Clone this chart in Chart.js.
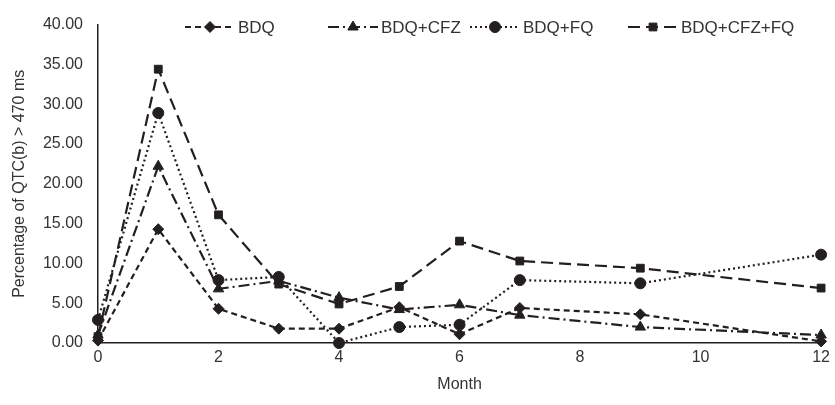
<!DOCTYPE html>
<html>
<head>
<meta charset="utf-8">
<script src="https://cdn.jsdelivr.net/npm/chart.js@4"></script>
<style>
  html, body { margin: 0; padding: 0; background: #fff; }
  #wrap { width: 835px; height: 405px; }
</style>
</head>
<body>
<div id="wrap"><canvas id="qtcChart"></canvas></div>
<script>
const months = [0, 1, 2, 3, 4, 5, 6, 7, 9, 12];
const bdq = [0.3, 14.3, 4.3, 1.8, 1.8, 4.5, 1.1, 4.4, 3.6, 0.2];
const bdqCfz = [1.0, 22.2, 6.8, 7.8, 5.7, 4.2, 4.8, 3.5, 2.0, 1.0];
const bdqFq = [2.9, 28.9, 7.9, 8.3, 0.0, 2.0, 2.3, 7.9, 7.5, 11.1];
const bdqCfzFq = [0.8, 34.4, 16.1, 7.4, 4.9, 7.1, 12.8, 10.3, 9.4, 6.9];

const ink = '#231f20';
const textCol = '#333333';
const font = 'Liberation Sans, Arial, sans-serif';

const series = [
    { label: 'BDQ', data: bdq, dash: [6, 4], point: 'rectRot', radius: 5.5, legendX: 185 },
    { label: 'BDQ+CFZ', data: bdqCfz, dash: [11, 4, 2, 4], point: 'triangle', radius: 6, legendX: 328 },
    { label: 'BDQ+FQ', data: bdqFq, dash: [2, 3], point: 'circle', radius: 5.5, legendX: 470 },
    { label: 'BDQ+CFZ+FQ', data: bdqCfzFq, dash: [12, 6], point: 'rect', radius: 5.5, legendX: 628 }
];

// custom legend: dashed line segment with marker in the middle, then label
const lineLegend = {
    id: 'lineLegend',
    afterDraw(chart) {
        const c = chart.ctx;
        const y = 27;
        series.forEach(s => {
            const x0 = s.legendX, x1 = x0 + 50;
            c.save();
            c.strokeStyle = ink;
            c.lineWidth = 2.2;
            c.setLineDash(s.dash);
            c.beginPath();
            c.moveTo(x0, y);
            c.lineTo(x1, y);
            c.stroke();
            c.restore();
            c.save();
            c.fillStyle = ink;
            c.strokeStyle = ink;
            Chart.helpers.drawPoint(c, {
                pointStyle: s.point, radius: s.radius, borderWidth: 1
            }, (x0 + x1) / 2, y);
            c.restore();
            c.save();
            c.fillStyle = textCol;
            c.font = '17px ' + font;
            c.textBaseline = 'middle';
            c.fillText(s.label, x1 + 3, y + 1);
            c.restore();
        });
    }
};

new Chart(document.getElementById('qtcChart'), {
    type: 'line',
    data: {
        datasets: series.map(s => ({
            label: s.label,
            data: months.map((m, i) => ({ x: m, y: s.data[i] })),
            borderColor: ink,
            backgroundColor: ink,
            borderWidth: 2.2,
            borderDash: s.dash,
            pointStyle: s.point,
            pointRadius: s.radius,
            pointBorderWidth: 1,
            tension: 0,
            clip: false
        }))
    },
    options: {
        responsive: true,
        maintainAspectRatio: false,
        animation: false,
        layout: { padding: { left: 0, right: 11, top: 17, bottom: 0 } },
        plugins: {
            legend: { display: false },
            tooltip: { enabled: false }
        },
        scales: {
            x: {
                type: 'linear',
                min: 0,
                max: 12,
                ticks: { stepSize: 2, color: textCol, font: { family: font, size: 16 }, padding: 5 },
                grid: { display: false, drawTicks: false },
                border: { display: true, color: ink, width: 1.5 },
                title: { display: true, text: 'Month', color: textCol, font: { family: font, size: 16 }, padding: { top: 11, bottom: 11 } },
                afterFit: s => { s.height = 62; }
            },
            y: {
                min: 0,
                max: 40,
                ticks: {
                    stepSize: 5,
                    color: textCol,
                    font: { family: font, size: 16 },
                    padding: 15,
                    callback: v => v.toFixed(2)
                },
                grid: { display: false, drawTicks: false },
                border: { display: true, color: ink, width: 1.5 },
                title: { display: true, text: 'Percentage of QTC(b) > 470 ms', color: textCol, font: { family: font, size: 16 }, padding: { top: 10 } },
                afterFit: s => { s.width = 98; }
            }
        }
    },
    plugins: [lineLegend]
});
</script>
</body>
</html>
